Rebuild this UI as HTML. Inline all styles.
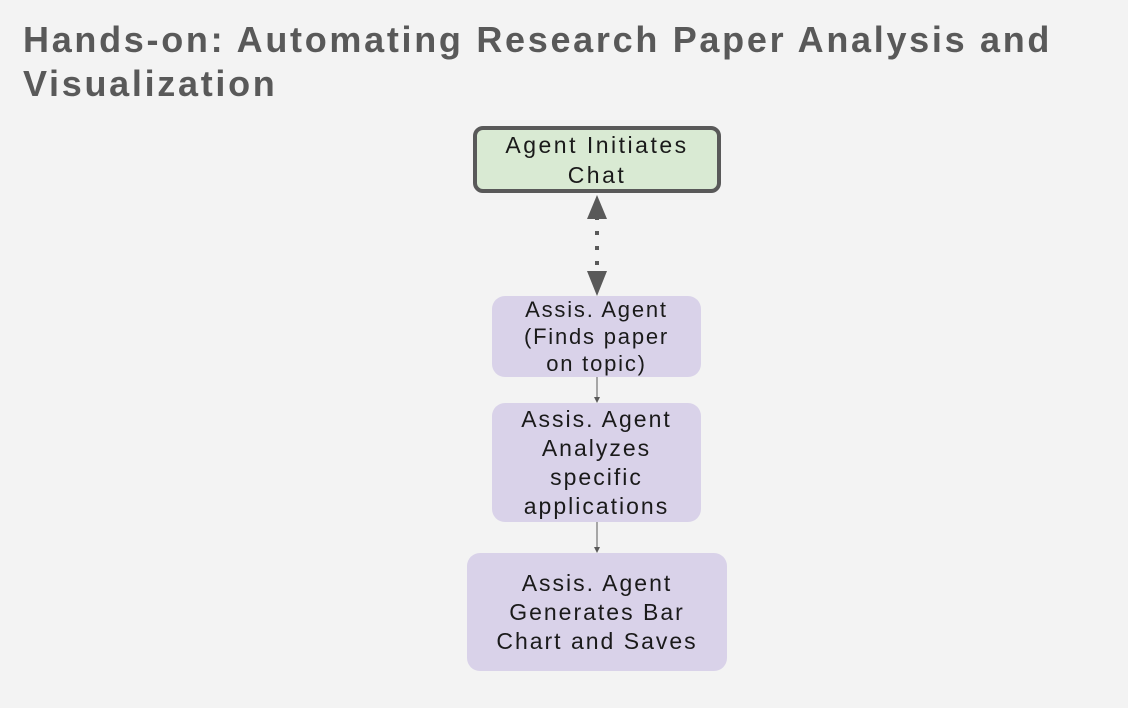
<!DOCTYPE html>
<html><head><meta charset="utf-8"><style>
body{margin:0;width:1128px;height:708px;background:#f3f3f3;position:relative;overflow:hidden;font-family:"Liberation Sans",sans-serif}
h1{position:absolute;left:23px;top:18px;margin:0;font-size:36px;line-height:44px;font-weight:bold;color:#595959;letter-spacing:2.7px;white-space:nowrap}
.b{position:absolute;box-sizing:border-box;display:flex;align-items:center;justify-content:center;text-align:center;color:#1a1a1a;font-size:23px;line-height:29px;letter-spacing:2px;white-space:nowrap}
.p{background:#d9d2e9;border-radius:13px}
</style></head><body>
<h1>Hands-on: Automating Research Paper Analysis and<br>Visualization</h1>
<div class="b" style="left:473px;top:126px;width:248px;height:67px;background:#d9ead3;border:4px solid #595959;border-radius:10px;line-height:30px;letter-spacing:2.5px">Agent Initiates<br>Chat</div>
<div class="b p" style="left:492px;top:296px;width:209px;height:81px;font-size:22px;line-height:27px;letter-spacing:1.8px">Assis. Agent<br>(Finds paper<br>on topic)</div>
<div class="b p" style="left:492px;top:403px;width:209px;height:119px">Assis. Agent<br>Analyzes<br>specific<br>applications</div>
<div class="b p" style="left:467px;top:553px;width:260px;height:118px">Assis. Agent<br>Generates Bar<br>Chart and Saves</div>
<svg width="1128" height="708" style="position:absolute;left:0;top:0">
<line x1="597" y1="216" x2="597" y2="272" stroke="#595959" stroke-width="4" stroke-dasharray="4,11"/>
<polygon points="597,195 587,219 607,219" fill="#595959"/>
<polygon points="597,296 587,271 607,271" fill="#595959"/>
<line x1="597" y1="377" x2="597" y2="398" stroke="#595959" stroke-width="1"/>
<polygon points="597,403 594,397 600,397" fill="#595959"/>
<line x1="597" y1="522" x2="597" y2="548" stroke="#595959" stroke-width="1"/>
<polygon points="597,553 594,547 600,547" fill="#595959"/>
</svg>
</body></html>
